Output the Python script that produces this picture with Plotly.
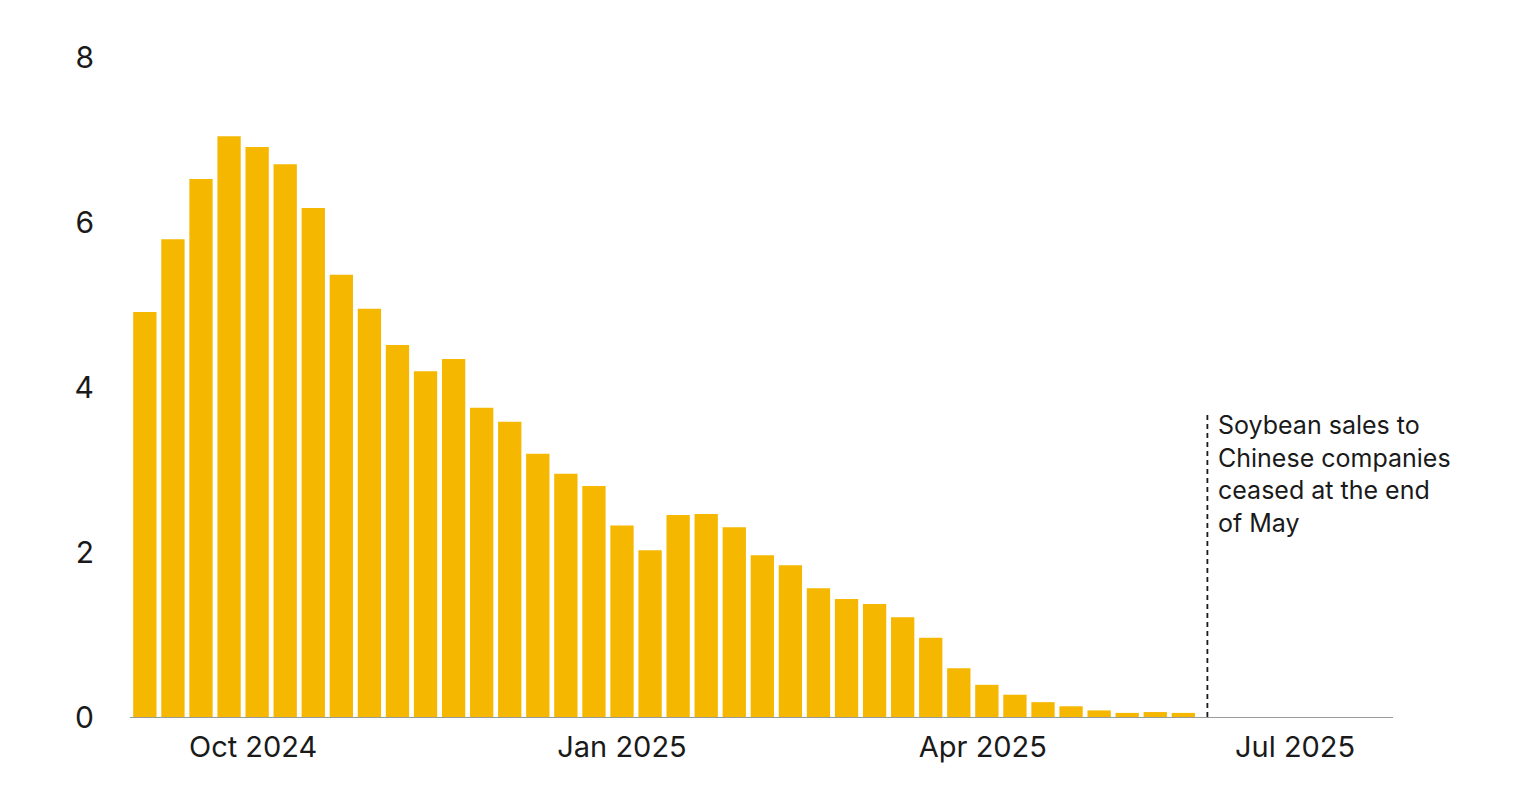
import pandas as pd
import plotly.graph_objects as go

# Weekly values, one bar per week starting early Sep 2024
start_week = "2024-09-04"
values = [4.91, 5.79, 6.52, 7.04, 6.91, 6.70, 6.17, 5.36, 4.95, 4.51,
          4.19, 4.34, 3.75, 3.58, 3.19, 2.95, 2.80, 2.32, 2.02, 2.45,
          2.46, 2.30, 1.96, 1.84, 1.56, 1.43, 1.37, 1.21, 0.96, 0.59,
          0.39, 0.27, 0.18, 0.13, 0.08, 0.05, 0.06, 0.05]
weeks = pd.date_range(start_week, periods=len(values), freq="7D")

tick_dates = ["2024-10-01", "2025-01-01", "2025-04-01"]
tick_text = ["Oct 2024", "Jan 2025", "Apr 2025"]
last_tick_date = "2025-07-01"
last_tick_text = "Jul 2025"

y_ticks = [0, 2, 4, 6, 8]

cutoff_date = "2025-05-27"
cutoff_top = 3.66
note = "Soybean sales to<br>Chinese companies<br>ceased at the end<br>of May"

font_name = "Inter"
ink = "#1a1a1a"

fig = go.Figure(go.Bar(x=weeks, y=values, marker=dict(color="#F5B700", line_width=0)))

# dashed marker for the end of sales
fig.add_shape(type="line", x0=cutoff_date, x1=cutoff_date, y0=0, y1=cutoff_top,
              xref="x", yref="y", line=dict(color=ink, width=1.8, dash="5px,4px"))
fig.add_annotation(x=cutoff_date, y=cutoff_top, xref="x", yref="y", text=note,
                   showarrow=False, xanchor="left", yanchor="top", align="left",
                   xshift=9, yshift=7, font=dict(family=font_name, size=25, color=ink))

# last month label sits flush right so it stays inside the chart
fig.add_annotation(x=last_tick_date, y=0, xref="x", yref="paper", text=last_tick_text,
                   showarrow=False, xanchor="right", yanchor="top", xshift=9, yshift=-10,
                   font=dict(family=font_name, size=29, color=ink))

# the page adds an 8px body margin, so the margins are offset by that
fig.update_layout(
    width=1536, height=802,
    margin=dict(l=122, r=151, t=49, b=93),
    plot_bgcolor="white", paper_bgcolor="white",
    bargap=0.17, showlegend=False,
    font=dict(family=font_name, color=ink),
    xaxis=dict(range=["2024-08-31 07:00", "2025-07-12 07:00"], type="date",
               tickvals=tick_dates, ticktext=tick_text, showgrid=False,
               showline=True, linecolor="#9a9a9a", linewidth=1,
               ticks="", ticklabelstandoff=4,
               tickfont=dict(family=font_name, size=29, color=ink), zeroline=False),
    yaxis=dict(range=[0, 8], tickvals=y_ticks, showgrid=False, zeroline=False,
               showline=False, ticks="", ticklabelstandoff=35,
               tickfont=dict(family=font_name, size=30, color=ink)),
)

fig.write_html("out.html")
